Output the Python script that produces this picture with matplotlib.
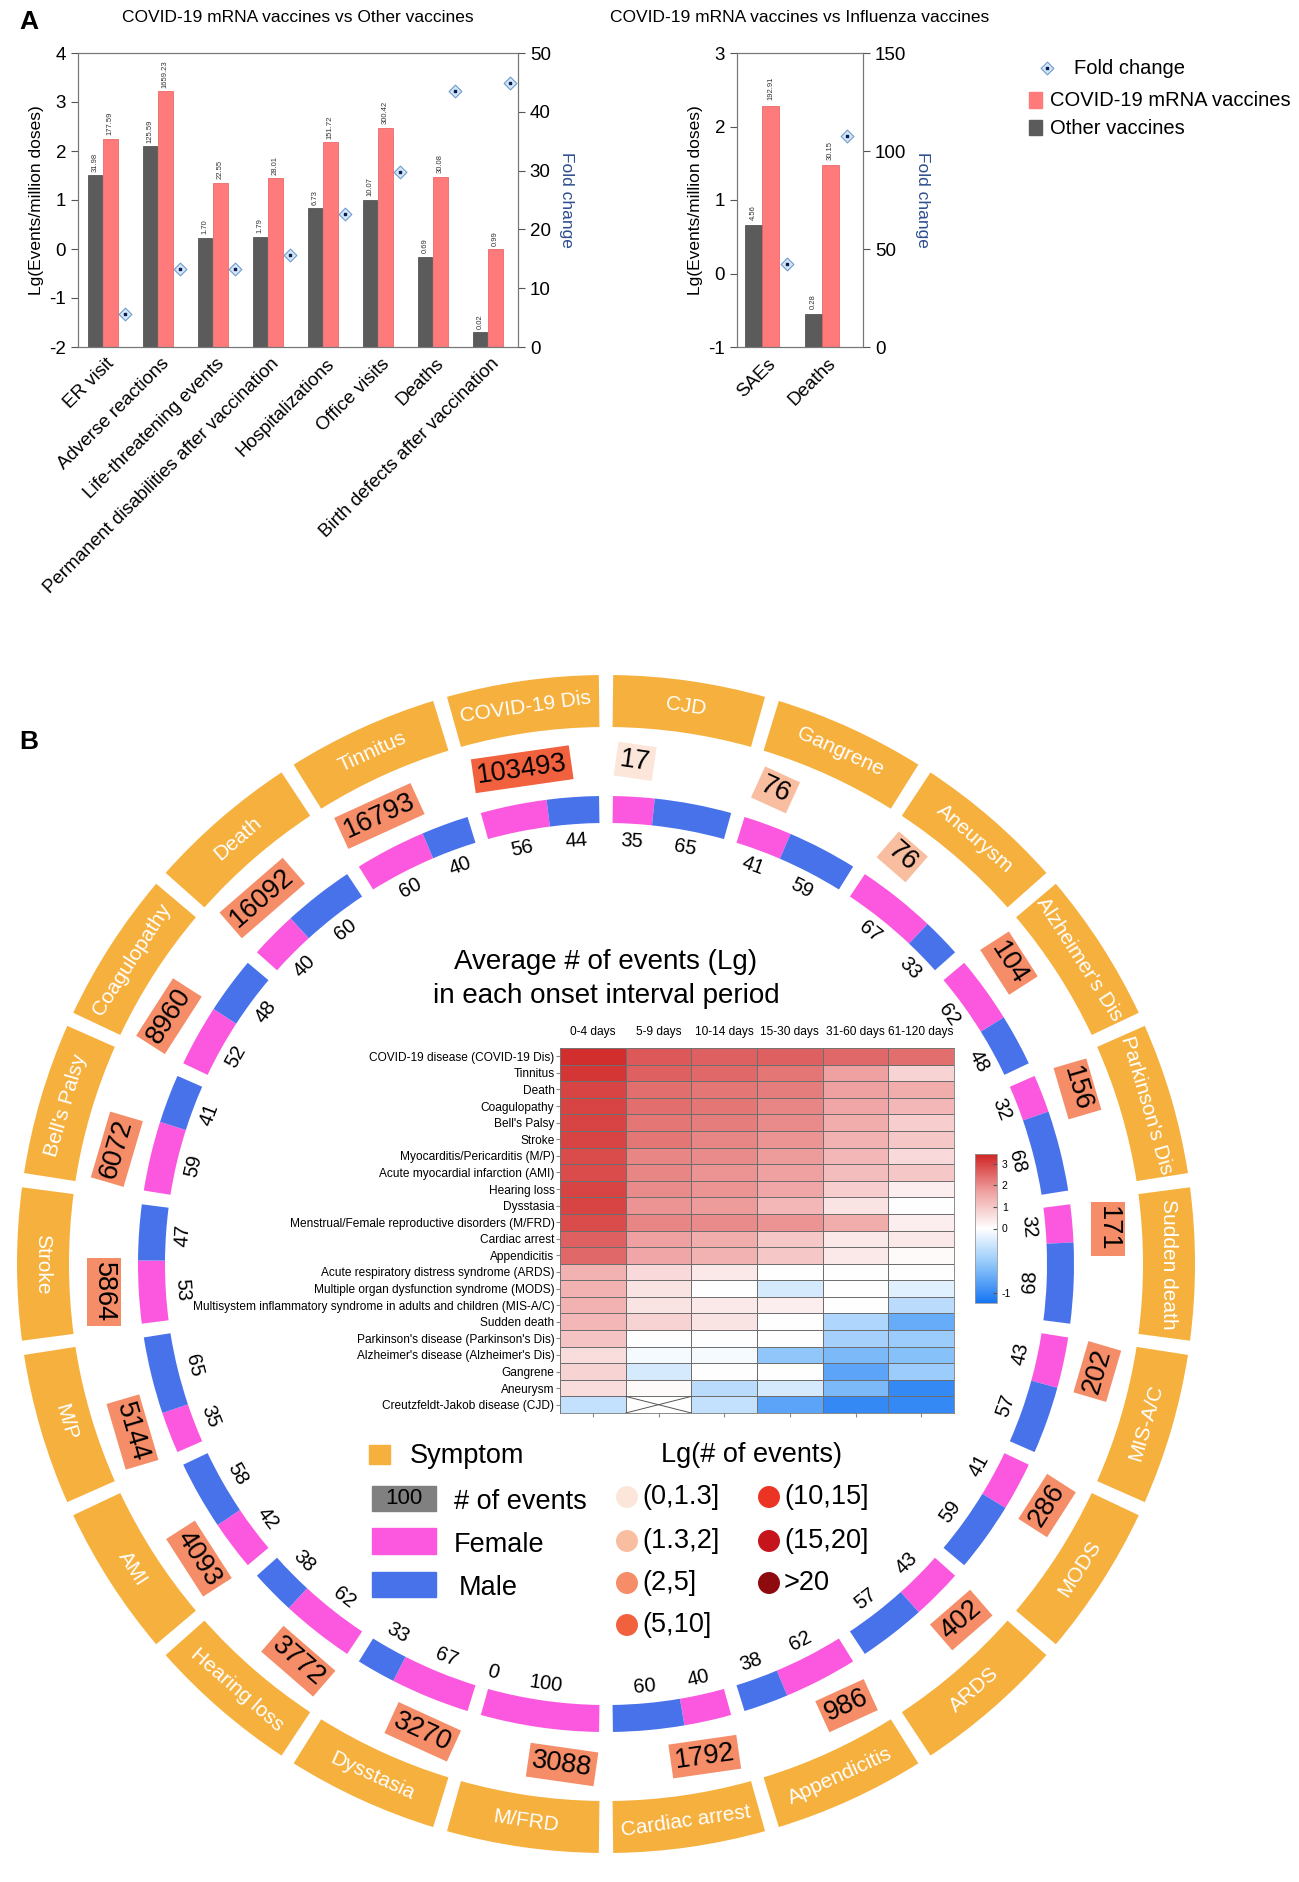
import numpy as np
import matplotlib
matplotlib.use('Agg')
import matplotlib.pyplot as plt
from matplotlib.patches import Wedge, Rectangle
from matplotlib.colors import LinearSegmentedColormap, TwoSlopeNorm

plt.rcParams['font.family'] = ['Liberation Sans', 'DejaVu Sans']
plt.rcParams['axes.unicode_minus'] = False

W, H = 1299, 1882

# ---------------- panel A data
cats_a = ['ER visit', 'Adverse reactions', 'Life-threatening events',
          'Permanent disabilities after vaccination', 'Hospitalizations',
          'Office visits', 'Deaths', 'Birth defects after vaccination']
other_a = [31.98, 125.59, 1.70, 1.79, 6.73, 10.07, 0.69, 0.02]
covid_a = [177.59, 1659.23, 22.55, 28.01, 151.72, 300.42, 30.08, 0.99]
fold_a = [5.55, 13.21, 13.26, 15.65, 22.54, 29.83, 43.59, 44.9]

cats_flu = ['SAEs', 'Deaths']
other_flu = [4.56, 0.28]
covid_flu = [192.91, 30.15]
fold_flu = [42.3, 107.7]

# ---------------- panel B data (clockwise from top)
symptoms = ['CJD', 'Gangrene', 'Aneurysm', "Alzheimer's Dis", "Parkinson's Dis",
            'Sudden death', 'MIS-A/C', 'MODS', 'ARDS', 'Appendicitis',
            'Cardiac arrest', 'M/FRD', 'Dysstasia', 'Hearing loss', 'AMI', 'M/P',
            'Stroke', "Bell's Palsy", 'Coagulopathy', 'Death', 'Tinnitus', 'COVID-19 Dis']
n_events = [17, 76, 76, 104, 156, 171, 202, 286, 402, 986, 1792, 3088, 3270, 3772,
            4093, 5144, 5864, 6072, 8960, 16092, 16793, 103493]
female = [35, 41, 67, 62, 32, 32, 43, 41, 43, 62, 40, 100, 67, 62, 42, 35, 53, 59, 52, 40, 60, 56]
male = [65, 59, 33, 48, 68, 68, 57, 59, 57, 38, 60, 0, 33, 38, 58, 65, 47, 41, 48, 60, 40, 44]

bin_labels = ['(0,1.3]', '(1.3,2]', '(2,5]', '(5,10]', '(10,15]', '(15,20]', '>20']
bin_edges = [0, 1.3, 2, 5, 10, 15, 20]
bin_colors = ['#FCE6DA', '#F9BDA0', '#F58D68', '#F2613E', '#EC3424', '#C5141B', '#8E0A0E']

hm_rows = ['COVID-19 disease (COVID-19 Dis)', 'Tinnitus', 'Death', 'Coagulopathy',
           "Bell's Palsy", 'Stroke', 'Myocarditis/Pericarditis (M/P)',
           'Acute myocardial infarction (AMI)', 'Hearing loss', 'Dysstasia',
           'Menstrual/Female reproductive disorders (M/FRD)', 'Cardiac arrest',
           'Appendicitis', 'Acute respiratory distress syndrome (ARDS)',
           'Multiple organ dysfunction syndrome (MODS)',
           'Multisystem inflammatory syndrome in adults and children (MIS-A/C)',
           'Sudden death', "Parkinson's disease (Parkinson's Dis)",
           "Alzheimer's disease (Alzheimer's Dis)", 'Gangrene', 'Aneurysm',
           'Creutzfeldt-Jakob disease (CJD)']
hm_cols = ['0-4 days', '5-9 days', '10-14 days', '15-30 days', '31-60 days', '61-120 days']
hm_vals = [
    [3.3, 2.7, 2.6, 2.6, 2.5, 2.4],
    [3.2, 2.6, 2.5, 2.3, 1.7, 0.8],
    [3.0, 2.4, 2.3, 2.2, 1.7, 1.5],
    [3.0, 2.4, 2.3, 2.1, 1.6, 1.3],
    [3.0, 2.3, 2.2, 2.0, 1.5, 0.9],
    [3.0, 2.3, 2.1, 1.9, 1.4, 1.0],
    [2.9, 2.1, 2.0, 1.8, 1.3, 0.7],
    [2.9, 2.1, 1.9, 1.7, 1.2, 1.0],
    [3.0, 2.0, 1.9, 1.6, 0.9, 0.3],
    [3.0, 1.9, 1.8, 1.3, 0.5, 0.0],
    [2.9, 2.1, 2.0, 1.9, 1.5, 0.3],
    [2.6, 1.7, 1.5, 1.0, 0.4, 0.4],
    [2.5, 1.6, 1.4, 1.0, 0.4, 0.1],
    [1.4, 0.7, 0.4, 0.0, 0.0, 0.0],
    [1.4, 0.5, 0.0, -0.2, 0.0, -0.15],
    [1.4, 0.5, 0.4, 0.3, 0.0, -0.35],
    [1.3, 0.8, 0.5, 0.0, -0.4, -0.75],
    [1.1, 0.0, 0.0, 0.0, -0.45, -0.5],
    [0.6, -0.05, -0.05, -0.55, -0.65, -0.6],
    [0.8, -0.2, 0.0, 0.0, -0.8, -0.5],
    [0.6, 0.1, -0.35, -0.2, -0.65, -1.0],
    [-0.3, np.nan, -0.3, -0.8, -1.0, -1.0],
]

GRAY = '#5B5B5B'
RED = '#FF7A7A'
ORANGE = '#F6B03D'
PINK = '#FB58DF'
BLUE = '#4772EA'
FOLD = '#2E4E8E'

fig = plt.figure(figsize=(W / 100, H / 100), dpi=100)

# overlay axes in pixel coordinates (y measured from top via Y())
ov = fig.add_axes([0, 0, 1, 1])
ov.set_xlim(0, W)
ov.set_ylim(0, H)
ov.set_aspect('equal')
ov.axis('off')


def Y(y):
    return H - y


def fx(x):
    return x / W


def fy(y):
    return 1 - y / H


# ================= Panel A =================
ov.text(29, Y(22), 'A', fontsize=19, fontweight='bold', ha='center', va='center')


def bar_panel(rect, cats, other, covid, fold, ylim, fold_lim, fold_ticks, title, title_x, xmax, gx, rx, dx, bw):
    ax = fig.add_axes(rect)
    x = np.arange(len(cats))
    lo = np.log10(other)
    lc = np.log10(covid)
    ax.bar(x + gx, lo - ylim[0], bw, bottom=ylim[0], color=GRAY, edgecolor='#444444', lw=0.5, zorder=2)
    ax.bar(x + rx, lc - ylim[0], bw, bottom=ylim[0], color=RED, edgecolor='#E85858', lw=0.5, zorder=2)
    for xi, v, l in zip(x, other, lo):
        ax.text(xi + gx, l + 0.07, f'{v:.2f}', rotation=90, ha='center', va='bottom', fontsize=5.5, color='#333333')
    for xi, v, l in zip(x, covid, lc):
        ax.text(xi + rx, l + 0.07, f'{v:.2f}', rotation=90, ha='center', va='bottom', fontsize=5.5, color='#333333')
    ax.set_xlim(-0.5, xmax)
    ax.set_ylim(*ylim)
    ax.set_yticks(range(ylim[0], ylim[1] + 1))
    ax.set_xticks(x)
    ax.set_xticklabels(cats, rotation=45, ha='right', rotation_mode='anchor', fontsize=13.5)
    ax.tick_params(axis='x', length=0, pad=6)
    ax.tick_params(axis='y', labelsize=13.5, length=5, color='#555555')
    ax.set_ylabel('Lg(Events/million doses)', fontsize=12.5)
    for s in ax.spines.values():
        s.set_color('#777777')
        s.set_linewidth(0.8)
    ax2 = ax.twinx()
    ax2.set_ylim(*fold_lim)
    ax2.set_yticks(fold_ticks)
    ax2.tick_params(axis='y', labelsize=13.5, length=5, color='#555555')
    ax2.scatter(x + dx, fold, marker='D', s=42, facecolor='#D4E6F7', edgecolor='#6E9CCF', lw=0.8, zorder=3)
    ax2.scatter(x + dx, fold, marker='s', s=4, color='#0B1F4F', zorder=4)
    ax2.set_ylabel('Fold change', color=FOLD, fontsize=12.5, rotation=270, labelpad=17)
    for s in ax2.spines.values():
        s.set_color('#777777')
        s.set_linewidth(0.8)
    ax2.set_xlim(-0.5, xmax)
    fig.text(title_x, fy(18), title, fontsize=12.5, ha='center', va='center')
    return ax


bar_panel([fx(78), fy(347), fx(518) - fx(78), fy(53) - fy(347)], cats_a, other_a, covid_a, fold_a,
          (-2, 4), (0, 50), range(0, 51, 10), 'COVID-19 mRNA vaccines vs Other vaccines', fx(298),
          7.5, -0.19, 0.09, 0.36, 0.27)
bar_panel([fx(737), fy(347), fx(863) - fx(737), fy(53) - fy(347)], cats_flu, other_flu, covid_flu, fold_flu,
          (-1, 3), (0, 150), range(0, 151, 50), 'COVID-19 mRNA vaccines vs Influenza vaccines', fx(800),
          1.6, -0.23, 0.06, 0.33, 0.29)

# legend of panel A
ov.scatter([1047], [Y(68)], marker='D', s=42, facecolor='#D4E6F7', edgecolor='#6E9CCF', lw=0.8)
ov.scatter([1047], [Y(68)], marker='s', s=4, color='#0B1F4F')
ov.text(1074, Y(68), 'Fold change', fontsize=14.5, va='center')
ov.add_patch(Rectangle((1029, Y(108)), 13, 16, color=RED))
ov.text(1050, Y(100), 'COVID-19 mRNA vaccines', fontsize=14.5, va='center')
ov.add_patch(Rectangle((1029, Y(135)), 13, 15, color=GRAY))
ov.text(1050, Y(128), 'Other vaccines', fontsize=14.5, va='center')

# ================= Panel B =================
ov.text(29, Y(742), 'B', fontsize=19, fontweight='bold', ha='center', va='center')

cx, cy = 606, Y(1264)
step = 360 / len(symptoms)


def upper(a):
    return round((a + 180) % 360 - 180, 6) >= 0


def tang_rot(a):
    a = round((a + 180) % 360 - 180, 6)
    return a - 90 if a >= 0 else a + 90


def pol(r, a):
    t = np.deg2rad(a)
    return cx + r * np.cos(t), cy + r * np.sin(t)


def bin_color(v):
    lg = np.log10(v)
    k = 0
    for j, e in enumerate(bin_edges):
        if lg > e:
            k = j
    return bin_colors[k]


for i, s in enumerate(symptoms):
    a0 = 90 - i * step
    a1 = a0 - step
    mid = (a0 + a1) / 2
    # symptom ring
    ov.add_patch(Wedge((cx, cy), 589, a1 + 0.7, a0 - 0.7, width=52, facecolor=ORANGE, edgecolor='none'))
    px, py = pol(563, mid)
    ov.text(px, py, s, color='white', fontsize=15, ha='center', va='center',
            rotation=tang_rot(mid), rotation_mode='anchor')
    # number of events, starting at the counter-clockwise edge of the segment
    px, py = pol(505, a0 - 1.6)
    ov.text(px, py, str(n_events[i]), fontsize=19.5, ha='left' if upper(mid) else 'right', va='center',
            rotation=tang_rot(mid), rotation_mode='anchor',
            bbox=dict(boxstyle='square,pad=0.15', facecolor=bin_color(n_events[i]), edgecolor='none'))
    # sex ring
    g = 0.85
    span = step - 2 * g
    frac = female[i] / (female[i] + male[i])
    af = a0 - g - span * frac
    if female[i] > 0:
        ov.add_patch(Wedge((cx, cy), 468, af, a0 - g, width=27, facecolor=PINK, edgecolor='none'))
    if male[i] > 0:
        ov.add_patch(Wedge((cx, cy), 468, a1 + g, af, width=27, facecolor=BLUE, edgecolor='none'))
    for val, am in ((female[i], (a0 - g + af) / 2), (male[i], (af + a1 + g) / 2)):
        px, py = pol(424, am)
        ov.text(px, py, str(val), fontsize=14.5, ha='center', va='center',
                rotation=tang_rot(am), rotation_mode='anchor')

# heatmap title
ov.text(606, Y(962), 'Average # of events (Lg)', fontsize=20, ha='center', va='center')
ov.text(606, Y(996), 'in each onset interval period', fontsize=20, ha='center', va='center')

# heatmap
cmap = LinearSegmentedColormap.from_list('bwr2', ['#1675F2', '#8CC4FA', '#FFFFFF', '#EFA0A0', '#D02424'])
norm = TwoSlopeNorm(vcenter=0, vmin=-1.15, vmax=3.45)
hax = fig.add_axes([fx(560), fy(1413), fx(954) - fx(560), fy(1048) - fy(1413)])
vals = np.ma.masked_invalid(np.array(hm_vals))
mesh = hax.pcolormesh(vals, cmap=cmap, norm=norm, edgecolors='#6E6E6E', linewidth=0.6)
hax.set_xlim(0, len(hm_cols))
hax.set_ylim(len(hm_rows), 0)
for r, row in enumerate(hm_vals):
    for c, v in enumerate(row):
        if np.isnan(v):
            hax.plot([c, c + 1], [r, r + 1], color='#555555', lw=0.7)
            hax.plot([c, c + 1], [r + 1, r], color='#555555', lw=0.7)
hax.set_yticks(np.arange(len(hm_rows)) + 0.5)
hax.set_yticklabels(hm_rows, fontsize=8.6)
hax.set_xticks(np.arange(len(hm_cols)) + 0.5)
hax.set_xticklabels(hm_cols, fontsize=8.6)
hax.tick_params(axis='x', top=False, labeltop=True, bottom=True, labelbottom=False, length=3, color='#888888', pad=4)
hax.tick_params(axis='y', length=3, color='#888888', pad=1)
for s in hax.spines.values():
    s.set_color('#777777')
    s.set_linewidth(0.6)

cax = fig.add_axes([fx(975), fy(1303), fx(997) - fx(975), fy(1154) - fy(1303)])
cb = fig.colorbar(mesh, cax=cax, ticks=[-1, 0, 1, 2, 3])
cb.ax.tick_params(labelsize=7.5, length=3, direction='in', color='#555555')
cb.outline.set_edgecolor('#999999')
cb.outline.set_linewidth(0.6)

# legend of panel B
ov.add_patch(Rectangle((369, Y(1464)), 21, 19, color=ORANGE))
ov.text(410, Y(1456), 'Symptom', fontsize=19.5, va='center')
ov.add_patch(Rectangle((372, Y(1511)), 64, 25, color='#808080'))
ov.text(404, Y(1499), '100', fontsize=16, ha='center', va='center')
ov.text(454, Y(1502), '# of events', fontsize=19.5, va='center')
ov.add_patch(Rectangle((372, Y(1554)), 64, 26, color=PINK))
ov.text(454, Y(1545), 'Female', fontsize=19.5, va='center')
ov.add_patch(Rectangle((372, Y(1597)), 64, 25, color=BLUE))
ov.text(459, Y(1588), 'Male', fontsize=19.5, va='center')

ov.text(752, Y(1455), 'Lg(# of events)', fontsize=19.5, ha='center', va='center')
leg_pos = [(627, 1497), (627, 1541), (627, 1583), (627, 1625), (769, 1497), (769, 1541), (769, 1583)]
for (lx, ly), lab, col in zip(leg_pos, bin_labels, bin_colors):
    ov.scatter([lx], [Y(ly)], s=250, color=col, edgecolor='none')
    ov.text(lx + 15, Y(ly), lab, fontsize=19.5, va='center')

fig.savefig('out.png', dpi=100)
